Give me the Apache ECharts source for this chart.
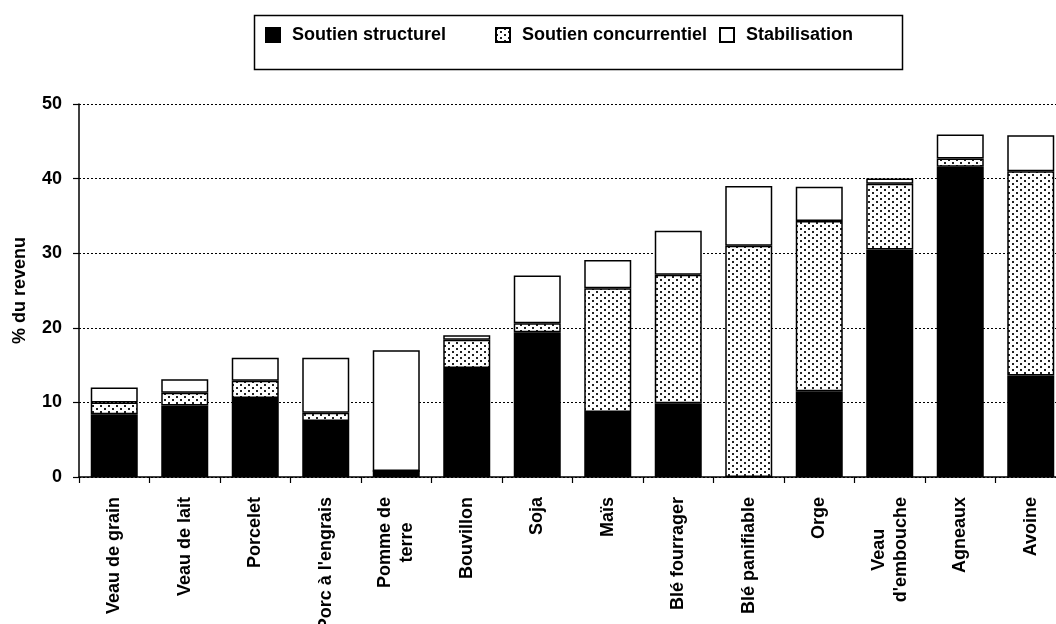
<!DOCTYPE html>
<html><head><meta charset="utf-8">
<script src="https://cdn.jsdelivr.net/npm/echarts@6/dist/echarts.min.js"></script>
<style>html,body{margin:0;padding:0;background:#fff}#c{width:1056px;height:624px}</style>
</head><body><div id="c"></div>
<script>
const categories = ['Veau de grain','Veau de lait','Porcelet',"Porc à l'engrais",'Pomme de\nterre','Bouvillon','Soja','Maïs','Blé fourrager','Blé panifiable','Orge',"Veau\nd'embouche",'Agneaux','Avoine'];
const seriesNames = ['Soutien structurel','Soutien concurrentiel','Stabilisation'];
const structurel    = [8.4, 9.6, 10.6, 7.5, 0.8, 14.6, 19.4, 8.7, 9.9, 0, 11.5, 30.5, 41.6, 13.6];
const concurrentiel = [1.6, 1.7, 2.3, 1.1, 0, 3.8, 1.2, 16.6, 17.2, 31.0, 22.8, 8.8, 1.1, 27.4];
const stabilisation = [2.0, 1.8, 3.1, 7.4, 16.2, 0.6, 6.4, 3.8, 5.9, 8.0, 4.6, 0.7, 3.2, 4.8];
const yMin = 0, yMax = 50, yStep = 10;

const FONT = "'Liberation Sans', Arial, sans-serif";
function makePattern(){
  const c = document.createElement('canvas'); c.width = 8; c.height = 6;
  const g = c.getContext('2d');
  g.fillStyle = '#fff'; g.fillRect(0,0,8,6);
  g.fillStyle = '#222'; g.fillRect(0,0,2,2); g.fillRect(4,3,2,2);
  return c;
}
const dotted = {image: makePattern(), repeat: 'repeat'};
const fills = ['#000', dotted, '#fff'];
const values = [structurel, concurrentiel, stabilisation];

const chart = echarts.init(document.getElementById('c'), null, {renderer:'canvas'});
const legendCommon = {
  orient:'horizontal', padding:0, itemWidth:14, itemHeight:14, icon:'rect',
  textStyle:{fontFamily:FONT, fontWeight:'bold', fontSize:18, color:'#000', padding:[0,0,0,7]}
};
const legendLefts = [265, 495, 719];
chart.setOption({
  animation:false,
  backgroundColor:'#fff',
  graphic:[
    {type:'rect', left:252, top:13, shape:{width:648, height:54}, style:{fill:'none', stroke:'#000', lineWidth:1.5}}
  ],
  legend: seriesNames.map((n,i)=>Object.assign({data:[n], left:legendLefts[i], top:26}, legendCommon)),
  grid:{left:79, right:-10, top:104, height:373, containLabel:false, outerBoundsMode:'none'},
  xAxis:{
    type:'category', data:categories,
    axisLine:{lineStyle:{color:'#000', width:1.5}},
    axisTick:{show:true, length:6, lineStyle:{color:'#000', width:1.2}},
    axisLabel:{
      interval:0, rotate:90, margin:20, color:'#000',
      fontFamily:FONT, fontWeight:'bold', fontSize:18, lineHeight:22,
      formatter: v => v.split('\n').map(s=>'{c|'+s+'}').join('\n'),
      rich:{c:{align:'center', fontFamily:FONT, fontWeight:'bold', fontSize:18, lineHeight:22, color:'#000'}}
    }
  },
  yAxis:{
    type:'value', min:yMin, max:yMax, interval:yStep,
    name:'% du revenu', nameLocation:'middle', nameGap:50,
    nameTextStyle:{fontFamily:FONT, fontWeight:'bold', fontSize:18, color:'#000'},
    axisLine:{show:true, lineStyle:{color:'#000', width:1.5}},
    axisTick:{show:true, length:6, lineStyle:{color:'#000', width:1.2}},
    axisLabel:{margin:17, color:'#000', fontFamily:FONT, fontWeight:'bold', fontSize:18},
    splitLine:{show:true, lineStyle:{color:'#000', type:[2,2], width:1}}
  },
  series: seriesNames.map((n,i)=>({
    name:n, type:'bar', stack:'total', barWidth:47, data:values[i],
    itemStyle:{color:fills[i], borderColor:'#000', borderWidth:1.5}
  }))
});
</script></body></html>
